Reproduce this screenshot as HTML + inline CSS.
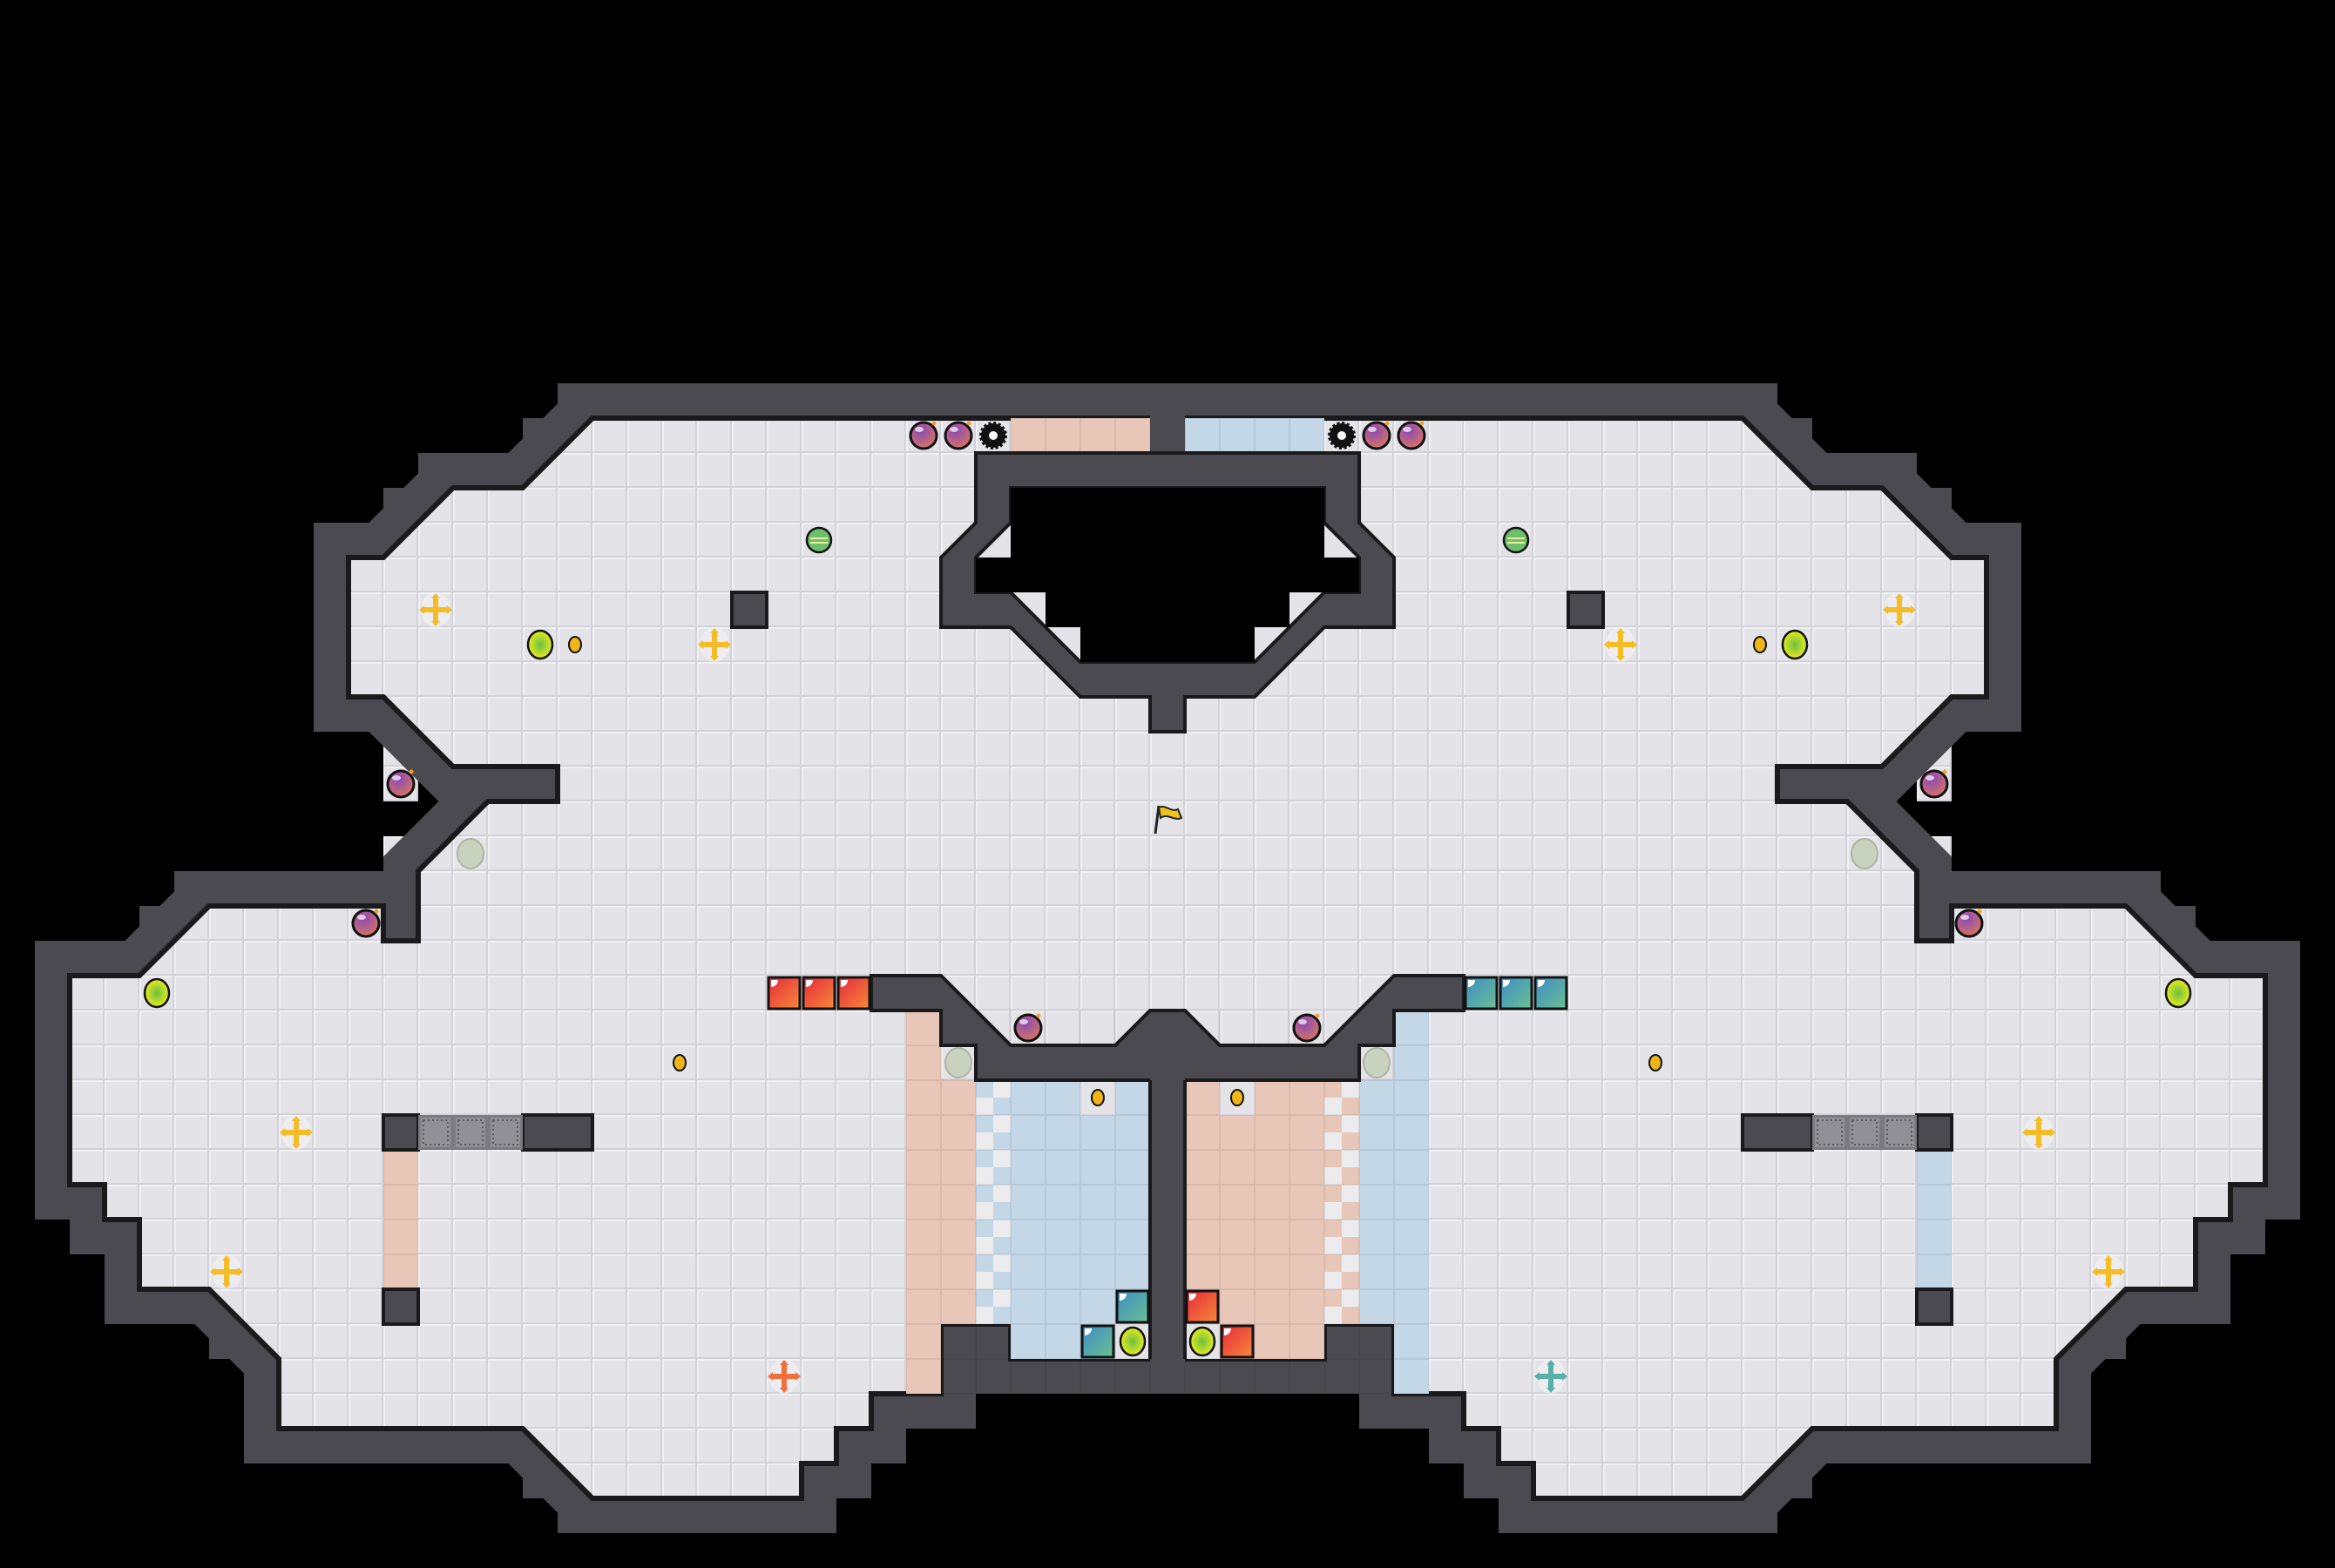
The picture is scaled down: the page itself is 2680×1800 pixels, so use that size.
<!DOCTYPE html>
<html><head><meta charset="utf-8"><style>html,body{margin:0;padding:0;background:#000}svg{display:block}</style></head>
<body>
<svg width="2680" height="1800" viewBox="0 0 2680 1800" xmlns="http://www.w3.org/2000/svg">
<defs>
<pattern id="g" width="40" height="40" patternUnits="userSpaceOnUse">
<rect width="40" height="40" fill="#d2d2d9"/><rect x="0" y="0" width="38" height="38" fill="#f0f0f3"/><rect x="2" y="2" width="36" height="36" fill="#e3e3e8"/>
</pattern>
<pattern id="gl" width="40" height="40" patternUnits="userSpaceOnUse">
<rect x="0" y="0" width="40" height="40" fill="none" stroke="rgba(0,0,0,0.07)" stroke-width="2"/>
</pattern>
<radialGradient id="bg" cx="0.4" cy="0.3" r="0.8"><stop offset="0" stop-color="#8a48b8"/><stop offset="1" stop-color="#e07a58"/></radialGradient>
<radialGradient id="yg" cx="0.5" cy="0.5" r="0.5"><stop offset="0" stop-color="#6cc040"/><stop offset="1" stop-color="#e8ea20"/></radialGradient>
<linearGradient id="rg" x1="0" y1="0" x2="1" y2="1"><stop offset="0" stop-color="#e8283a"/><stop offset="1" stop-color="#f48a3a"/></linearGradient>
<linearGradient id="tg" x1="0" y1="0" x2="1" y2="1"><stop offset="0" stop-color="#3c8cc8"/><stop offset="1" stop-color="#6cc090"/></linearGradient>
<g id="bomb"><circle r="15" fill="url(#bg)" stroke="#111" stroke-width="3"/><ellipse cx="-5" cy="-7" rx="5" ry="3" fill="#fff" opacity="0.7"/><circle cx="12" cy="-14" r="2.5" fill="#f0a030"/></g>
<g id="gear"><circle r="14" fill="#111" stroke="#111" stroke-width="4" stroke-dasharray="3 2.5"/><circle r="11" fill="#111"/><circle r="5" fill="#fff"/></g>
<g id="ygb"><ellipse rx="14" ry="16" fill="url(#yg)" stroke="#111" stroke-width="2.5"/></g>
<g id="coin"><ellipse rx="7" ry="9" fill="#f2b418" stroke="#111" stroke-width="2"/></g>
<g id="gsb"><circle r="14" fill="#6cbf6c" stroke="#111" stroke-width="2.5"/><path d="M-10,-2 h20 M-10,3 h20" stroke="#e8f0a0" stroke-width="2"/></g>
<g id="pale"><ellipse rx="15" ry="17" fill="#c9d2bd" stroke="#aeb3a6" stroke-width="2"/></g>
<g id="cross"><ellipse rx="17" ry="20" fill="#f4f4f6" opacity="0.6"/><path d="M0,-16 L0,16 M-16,0 L16,0" stroke="currentColor" stroke-width="6"/><path d="M0,-19 l-5,6 h10z M0,19 l-5,-6 h10z M-19,0 l6,-5 v10z M19,0 l-6,-5 v10z" fill="currentColor"/></g>
<g id="rb"><rect x="-18" y="-18" width="36" height="36" fill="url(#rg)" stroke="#111" stroke-width="3"/><path d="M-15,-15 h8 a8,8 0 0 1 -8,8z" fill="#fff"/></g>
<g id="tb"><rect x="-18" y="-18" width="36" height="36" fill="url(#tg)" stroke="#111" stroke-width="3"/><path d="M-15,-15 h8 a8,8 0 0 1 -8,8z" fill="#fff"/></g>
<g id="grate"><rect width="40" height="40" fill="#7a7a80"/><rect x="3" y="3" width="34" height="34" fill="#909096"/><rect x="6" y="6" width="28" height="28" fill="none" stroke="#5a5a60" stroke-width="2" stroke-dasharray="2 3"/></g>
</defs>
<rect width="2680" height="1800" fill="#000"/>
<!-- alcove floors -->
<rect x="440" y="840" width="40" height="80" fill="url(#g)"/><rect x="440" y="960" width="40" height="40" fill="url(#g)"/>
<rect x="2200" y="840" width="40" height="80" fill="url(#g)"/><rect x="2200" y="960" width="40" height="40" fill="url(#g)"/>
<path d="M680,480 600,560 520,560 440,640 400,640 400,800 440,800 520,880 640,880 640,920 560,920 480,1000 480,1080 440,1080 440,1040 240,1040 160,1120 80,1120 80,1360 120,1360 120,1400 160,1400 160,1480 240,1480 320,1560 320,1640 600,1640 680,1720 920,1720 920,1680 960,1680 960,1640 1000,1640 1000,1600 1080,1600 1080,1520 1160,1520 1160,1560 1320,1560 1360,1560 1520,1560 1520,1520 1600,1520 1600,1600 1680,1600 1680,1640 1720,1640 1720,1680 1760,1680 1760,1720 2000,1720 2080,1640 2360,1640 2360,1560 2440,1480 2520,1480 2520,1400 2560,1400 2560,1360 2600,1360 2600,1120 2520,1120 2440,1040 2240,1040 2240,1080 2200,1080 2200,1000 2120,920 2040,920 2040,880 2160,880 2240,800 2280,800 2280,640 2240,640 2160,560 2080,560 2000,480Z" fill="none" stroke="#4b4a50" stroke-width="80" stroke-linejoin="miter" stroke-miterlimit="3"/>
<!-- squared outer corners for diagonals -->
<g fill="#4b4a50">
<rect x="640" y="440" width="40" height="40"/><rect x="600" y="480" width="40" height="40"/><rect x="560" y="520" width="40" height="40"/>
<rect x="480" y="520" width="40" height="40"/><rect x="440" y="560" width="40" height="40"/><rect x="400" y="600" width="40" height="40"/>
<rect x="200" y="1000" width="40" height="40"/><rect x="160" y="1040" width="40" height="40"/><rect x="120" y="1080" width="40" height="40"/>
<rect x="200" y="1480" width="40" height="40"/><rect x="240" y="1520" width="40" height="40"/><rect x="280" y="1560" width="40" height="40"/>
<rect x="560" y="1640" width="40" height="40"/><rect x="600" y="1680" width="40" height="40"/><rect x="640" y="1720" width="40" height="40"/>
<rect x="2000" y="440" width="40" height="40"/><rect x="2040" y="480" width="40" height="40"/><rect x="2080" y="520" width="40" height="40"/>
<rect x="2160" y="520" width="40" height="40"/><rect x="2200" y="560" width="40" height="40"/><rect x="2240" y="600" width="40" height="40"/>
<rect x="2440" y="1000" width="40" height="40"/><rect x="2480" y="1040" width="40" height="40"/><rect x="2520" y="1080" width="40" height="40"/>
<rect x="2440" y="1480" width="40" height="40"/><rect x="2400" y="1520" width="40" height="40"/><rect x="2360" y="1560" width="40" height="40"/>
<rect x="2080" y="1640" width="40" height="40"/><rect x="2040" y="1680" width="40" height="40"/><rect x="2000" y="1720" width="40" height="40"/>
</g>
<path d="M680,480 600,560 520,560 440,640 400,640 400,800 440,800 520,880 640,880 640,920 560,920 480,1000 480,1080 440,1080 440,1040 240,1040 160,1120 80,1120 80,1360 120,1360 120,1400 160,1400 160,1480 240,1480 320,1560 320,1640 600,1640 680,1720 920,1720 920,1680 960,1680 960,1640 1000,1640 1000,1600 1080,1600 1080,1520 1160,1520 1160,1560 1320,1560 1360,1560 1520,1560 1520,1520 1600,1520 1600,1600 1680,1600 1680,1640 1720,1640 1720,1680 1760,1680 1760,1720 2000,1720 2080,1640 2360,1640 2360,1560 2440,1480 2520,1480 2520,1400 2560,1400 2560,1360 2600,1360 2600,1120 2520,1120 2440,1040 2240,1040 2240,1080 2200,1080 2200,1000 2120,920 2040,920 2040,880 2160,880 2240,800 2280,800 2280,640 2240,640 2160,560 2080,560 2000,480Z" fill="url(#g)" stroke="#1a1a1c" stroke-width="6"/>
<!-- colored tiles -->
<g>
<rect x="1160" y="480" width="160" height="40" fill="#e8c7b9"/>
<rect x="1360" y="480" width="160" height="40" fill="#c3d7e7"/>
<rect x="440" y="1320" width="40" height="160" fill="#e8c7b9"/>
<rect x="2200" y="1320" width="40" height="160" fill="#c3d7e7"/>
<rect x="1040" y="1160" width="40" height="440" fill="#e8c7b9"/>
<rect x="1080" y="1240" width="40" height="280" fill="#e8c7b9"/>
<rect x="1120" y="1240" width="40" height="280" fill="#c3d7e7"/>
<rect x="1160" y="1240" width="160" height="320" fill="#c3d7e7"/>
<rect x="1240" y="1240" width="40" height="40" fill="#e3e3e8"/>
<rect x="1280" y="1520" width="40" height="40" fill="#e3e3e8"/>
<rect x="1360" y="1240" width="160" height="320" fill="#e8c7b9"/>
<rect x="1400" y="1240" width="40" height="40" fill="#e3e3e8"/>
<rect x="1360" y="1520" width="40" height="40" fill="#e3e3e8"/>
<rect x="1520" y="1240" width="40" height="280" fill="#e8c7b9"/>
<rect x="1560" y="1240" width="40" height="280" fill="#c3d7e7"/>
<rect x="1600" y="1160" width="40" height="440" fill="#c3d7e7"/>
<g fill="#ececef">
<rect x="1140" y="1240" width="20" height="20"/><rect x="1120" y="1260" width="20" height="20"/><rect x="1140" y="1280" width="20" height="20"/><rect x="1120" y="1300" width="20" height="20"/><rect x="1140" y="1320" width="20" height="20"/><rect x="1120" y="1340" width="20" height="20"/><rect x="1140" y="1360" width="20" height="20"/><rect x="1120" y="1380" width="20" height="20"/><rect x="1140" y="1400" width="20" height="20"/><rect x="1120" y="1420" width="20" height="20"/><rect x="1140" y="1440" width="20" height="20"/><rect x="1120" y="1460" width="20" height="20"/><rect x="1140" y="1480" width="20" height="20"/><rect x="1120" y="1500" width="20" height="20"/>
<rect x="1540" y="1240" width="20" height="20"/><rect x="1520" y="1260" width="20" height="20"/><rect x="1540" y="1280" width="20" height="20"/><rect x="1520" y="1300" width="20" height="20"/><rect x="1540" y="1320" width="20" height="20"/><rect x="1520" y="1340" width="20" height="20"/><rect x="1540" y="1360" width="20" height="20"/><rect x="1520" y="1380" width="20" height="20"/><rect x="1540" y="1400" width="20" height="20"/><rect x="1520" y="1420" width="20" height="20"/><rect x="1540" y="1440" width="20" height="20"/><rect x="1520" y="1460" width="20" height="20"/><rect x="1540" y="1480" width="20" height="20"/><rect x="1520" y="1500" width="20" height="20"/>
</g>
<rect x="1040" y="1160" width="600" height="440" fill="url(#gl)"/>
<rect x="1160" y="480" width="360" height="40" fill="url(#gl)"/>
<rect x="440" y="1320" width="40" height="160" fill="url(#gl)"/>
<rect x="2200" y="1320" width="40" height="160" fill="url(#gl)"/>
</g>
<!-- interior walls -->
<g fill="#4b4a50" stroke="#1a1a1c" stroke-width="4" stroke-linejoin="miter">
<rect x="1320" y="470" width="40" height="60" stroke="none"/>
<polygon points="1120,520 1120,600 1080,640 1080,720 1160,720 1240,800 1320,800 1320,840 1360,840 1360,800 1440,800 1520,720 1600,720 1600,640 1560,600 1560,520"/>
<polygon points="1160,560 1160,600 1120,640 1120,680 1160,680 1240,760 1440,760 1520,680 1560,680 1560,640 1520,600 1520,560" fill="#e3e3e8"/>
<rect x="840" y="680" width="40" height="40"/>
<rect x="1800" y="680" width="40" height="40"/>
<polygon points="1000,1120 1080,1120 1160,1200 1280,1200 1320,1160 1360,1160 1400,1200 1520,1200 1600,1120 1680,1120 1680,1160 1600,1160 1600,1200 1560,1200 1560,1240 1120,1240 1120,1200 1080,1200 1080,1160 1000,1160"/>
<rect x="1320" y="1236" width="40" height="330" stroke="none"/>
<path d="M1320,1240 V1560 M1360,1240 V1560" fill="none"/>
<rect x="440" y="1280" width="40" height="40"/>
<rect x="600" y="1280" width="80" height="40"/>
<rect x="440" y="1480" width="40" height="40"/>
<rect x="2200" y="1280" width="40" height="40"/>
<rect x="2000" y="1280" width="80" height="40"/>
<rect x="2200" y="1480" width="40" height="40"/>
</g>
<polygon points="1160,560 1520,560 1520,640 1560,640 1560,680 1480,680 1480,720 1440,720 1440,760 1240,760 1240,720 1200,720 1200,680 1120,680 1120,640 1160,640" fill="#000"/>
<use href="#grate" x="480" y="1280"/><use href="#grate" x="520" y="1280"/><use href="#grate" x="560" y="1280"/>
<use href="#grate" x="2080" y="1280"/><use href="#grate" x="2120" y="1280"/><use href="#grate" x="2160" y="1280"/>
<!-- icons -->
<use href="#bomb" x="1060" y="500"/><use href="#bomb" x="1100" y="500"/><use href="#bomb" x="1580" y="500"/><use href="#bomb" x="1620" y="500"/>
<use href="#bomb" x="460" y="900"/><use href="#bomb" x="2220" y="900"/><use href="#bomb" x="420" y="1060"/><use href="#bomb" x="2260" y="1060"/>
<use href="#bomb" x="1180" y="1180"/><use href="#bomb" x="1500" y="1180"/>
<use href="#gear" x="1140" y="500"/><use href="#gear" x="1540" y="500"/>
<use href="#gsb" x="940" y="620"/><use href="#gsb" x="1740" y="620"/>
<use href="#ygb" x="620" y="740"/><use href="#ygb" x="2060" y="740"/><use href="#ygb" x="180" y="1140"/><use href="#ygb" x="2500" y="1140"/><use href="#ygb" x="1300" y="1540"/><use href="#ygb" x="1380" y="1540"/>
<use href="#coin" x="660" y="740"/><use href="#coin" x="2020" y="740"/><use href="#coin" x="780" y="1220"/><use href="#coin" x="1900" y="1220"/><use href="#coin" x="1260" y="1260"/><use href="#coin" x="1420" y="1260"/>
<use href="#pale" x="540" y="980"/><use href="#pale" x="2140" y="980"/><use href="#pale" x="1100" y="1220"/><use href="#pale" x="1580" y="1220"/>
<g color="#f5bc2a">
<use href="#cross" x="500" y="700"/><use href="#cross" x="820" y="740"/><use href="#cross" x="1860" y="740"/><use href="#cross" x="2180" y="700"/>
<use href="#cross" x="340" y="1300"/><use href="#cross" x="2340" y="1300"/><use href="#cross" x="260" y="1460"/><use href="#cross" x="2420" y="1460"/>
</g>
<use href="#cross" x="900" y="1580" color="#f0703c"/>
<use href="#cross" x="1780" y="1580" color="#5ab0a8"/>
<use href="#rb" x="900" y="1140"/><use href="#rb" x="940" y="1140"/><use href="#rb" x="980" y="1140"/>
<use href="#tb" x="1700" y="1140"/><use href="#tb" x="1740" y="1140"/><use href="#tb" x="1780" y="1140"/>
<use href="#tb" x="1300" y="1500"/><use href="#tb" x="1260" y="1540"/>
<use href="#rb" x="1380" y="1500"/><use href="#rb" x="1420" y="1540"/>
<!-- flag -->
<g transform="translate(1330,925)">
<path d="M0,0 L-4,32" stroke="#222" stroke-width="3"/>
<path d="M0,2 C8,-2 14,8 22,4 L26,14 C18,18 10,8 2,14Z" fill="#f2c21c" stroke="#222" stroke-width="2"/>
</g>
</svg>
</body></html>
